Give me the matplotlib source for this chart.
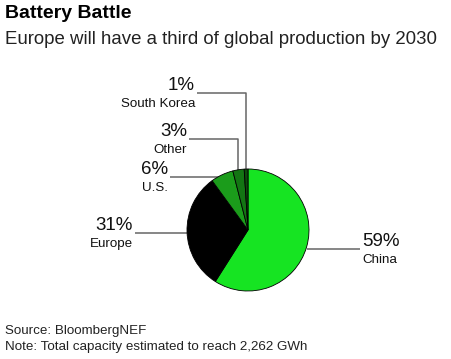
import numpy as np
import matplotlib.pyplot as plt

plt.rcParams['font.family'] = ['Liberation Sans', 'DejaVu Sans']

# data
labels = ['China', 'Europe', 'U.S.', 'Other', 'South Korea']
shares = [59, 31, 6, 3, 1]
colors = ['#16e422', '#000000', '#1b9c1b', '#137513', '#0c4a0c']

# label text anchors (right/left edge of text, pixel coords) and leader elbows
label_pos = {
    'China': (362, 249, 'left'),
    'Europe': (133, 233, 'right'),
    'U.S.': (168, 177, 'right'),
    'Other': (187, 139, 'right'),
    'South Korea': (195, 93, 'right'),
}

W, H = 451, 359
fig = plt.figure(figsize=(W / 100, H / 100), dpi=100)
ax = fig.add_axes([0, 0, 1, 1])

cx, cy, r = 248, 230, 61
# y axis is inverted, so counterclock in data = clockwise on screen
ax.pie(shares, colors=colors, center=(cx, cy), radius=r, startangle=270,
       counterclock=True, frame=True,
       wedgeprops=dict(edgecolor='black', linewidth=0.6))
ax.set_xlim(0, W)
ax.set_ylim(H, 0)
ax.set_aspect('equal')
ax.axis('off')

line_col = '#666666'
cum = 0
for lab, val in zip(labels, shares):
    mid = (cum + val / 2) / 100 * 2 * np.pi
    cum += val
    px = cx + r * np.sin(mid)
    py = cy - r * np.cos(mid)
    tx, ty, ha = label_pos[lab]
    if lab in ('Other', 'South Korea'):
        xs = [tx + 2, px, px]
        ys = [ty, ty, py]
    elif lab == 'China':
        xs = [px, tx - 2]
        ys = [ty, ty]
    else:
        xs = [tx + 2, px]
        ys = [ty, ty]
    ax.plot(xs, ys, color=line_col, lw=1.1, solid_capstyle='butt', zorder=0)
    ax.text(tx, ty + 1, f'{val}%', ha=ha, va='bottom', fontsize=13.5,
            color='#111111')
    ax.text(tx, ty + 5, lab, ha=ha, va='top', fontsize=9.6, color='#111111')

fig.text(5 / W, 1 - 14 / H, 'Battery Battle', fontsize=14, weight='bold',
         va='center', ha='left')
fig.text(5 / W, 1 - 40 / H, 'Europe will have a third of global production by 2030',
         fontsize=13.4, va='center', ha='left', color='#222222')
fig.text(5 / W, 1 - 331 / H, 'Source: BloombergNEF', fontsize=9.6,
         va='center', ha='left', color='#222222')
fig.text(5 / W, 1 - 347 / H, 'Note: Total capacity estimated to reach 2,262 GWh',
         fontsize=9.6, va='center', ha='left', color='#222222')

fig.savefig('out.png', dpi=100)
